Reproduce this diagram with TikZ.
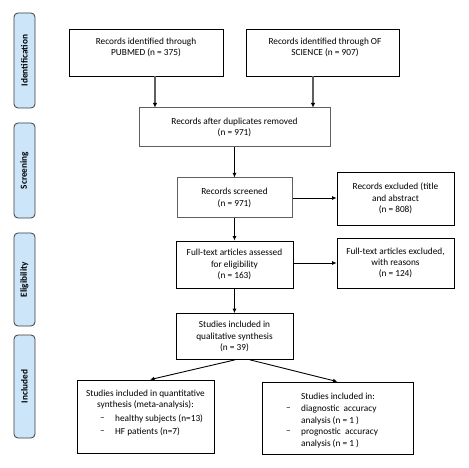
\documentclass[tikz,border=0pt]{standalone}
\usepackage{fontspec}
\setmainfont{Carlito}
\usetikzlibrary{arrows.meta,calc}
\definecolor{sidefill}{RGB}{204,229,249}
\definecolor{sideline}{RGB}{60,60,60}
\definecolor{grayline}{RGB}{95,95,95}
\begin{document}
\begin{tikzpicture}[x=1pt,y=-1pt,
  every node/.style={font=\fontsize{9.3}{11.4}\selectfont, inner sep=0pt},
  box/.style={draw=black, line width=0.7pt, fill=white},
  gbox/.style={draw=grayline, line width=1pt, fill=white},
  txt/.style={align=center},
  side/.style={draw=sideline, fill=sidefill, line width=0.8pt, rounded corners=4pt},
  sidetxt/.style={rotate=90, font=\fontsize{9.3}{10}\selectfont\bfseries},
  arr/.style={line width=0.9pt, -{Latex[length=4.5pt,width=4pt]}},
  garr/.style={draw=grayline, line width=1.4pt, -{Latex[length=4.5pt,width=4.5pt,color=black]}}]
\useasboundingbox (0,0) rectangle (469,468);

% side labels
\node[side, minimum width=21pt, minimum height=95pt] (sid) at (24.5,60.5) {};
\node[sidetxt] (sidt) at (sid.center) {Identification};
\node[side, minimum width=21pt, minimum height=95pt] (sscr) at (24.5,170.5) {};
\node[sidetxt] (sscrt) at (sscr.center) {Screening};
\node[side, minimum width=21pt, minimum height=93pt] (selg) at (24.5,279.5) {};
\node[sidetxt] (selgt) at (selg.center) {Eligibility};
\node[side, minimum width=21pt, minimum height=103pt] (sinc) at (24.5,386.5) {};
\node[sidetxt] (sinct) at (sinc.center) {Included};

% top boxes
\node[box, minimum width=154pt, minimum height=47pt] (pub) at (146,52.5) {};
\node[txt] (pubt) at (146,47.5) {Records identified through\\PUBMED (n = 375)};
\node[box, minimum width=153pt, minimum height=47pt] (sci) at (322.5,52.5) {};
\node[txt] (scit) at (325,47.5) {Records identified through OF\\SCIENCE (n = 907)};

\node[gbox, minimum width=191pt, minimum height=39pt, txt] (dup) at (234.5,127.5) {Records after duplicates removed\\(n = 971)};
\node[gbox, minimum width=115pt, minimum height=40pt, txt] (scr) at (234.5,198) {Records screened\\(n = 971)};
\node[box, minimum width=117pt, minimum height=53pt, txt] (exc) at (395.5,198.5) {Records excluded (title\\and abstract\\(n = 808)};
\node[box, minimum width=117pt, minimum height=47pt, txt] (ft) at (234.5,264.5) {Full-text articles assessed\\for eligibility\\(n = 163)};
\node[box, minimum width=117pt, minimum height=50pt, txt] (fte) at (395.5,263) {Full-text articles excluded,\\with reasons\\(n = 124)};
\node[box, minimum width=117pt, minimum height=46pt, txt] (qual) at (234.5,336.5) {Studies included in\\qualitative synthesis\\(n = 39)};

% bottom boxes
\node[box, minimum width=137pt, minimum height=73pt] (quant) at (145.5,416.5) {};
\node[txt] (quantt) at (145.5,399.5) {Studies included in quantitative\\synthesis (meta-analysis):};
\node[anchor=west] (q1d) at (100,419) {–};
\node[anchor=west] (q1) at (115,419) {healthy subjects (n=13)};
\node[anchor=west] (q2d) at (100,432) {–};
\node[anchor=west] (q2) at (115,432) {HF patients (n=7)};

\node[box, minimum width=151pt, minimum height=72pt] (acc) at (337.5,418) {};
\node (acct) at (338,396) {Studies included in:};
\node[anchor=west] (a1d) at (286,409) {–};
\node[anchor=west] (a1) at (301,409) {diagnostic\ \ accuracy};
\node[anchor=west] (a1b) at (301,420.5) {analysis (n = 1 )};
\node[anchor=west] (a2d) at (286,432) {–};
\node[anchor=west] (a2) at (301,432) {prognostic\ \ accuracy};
\node[anchor=west] (a2b) at (301,443.5) {analysis (n = 1 )};

% connectors
\draw[garr] ([xshift=9pt]pub.south) -- ([xshift=9pt]pub.south |- dup.north);
\draw[garr] ([xshift=-9.5pt]sci.south) -- ([xshift=-9.5pt]sci.south |- dup.north);
\draw[arr] (dup) -- (scr);
\draw[arr] (scr) -- (exc.west |- scr.east);
\draw[arr] (scr) -- (ft);
\draw[arr] ([yshift=1.5pt]ft.east) -- ([yshift=1.5pt]ft.east -| fte.west);
\draw[arr] (ft) -- (qual);
\draw[arr] ([xshift=0.5pt]qual.south) -- ([xshift=4.5pt]quant.north);
\draw[arr] ([xshift=15.5pt]qual.south) -- (acc.north);
\end{tikzpicture}
\end{document}
